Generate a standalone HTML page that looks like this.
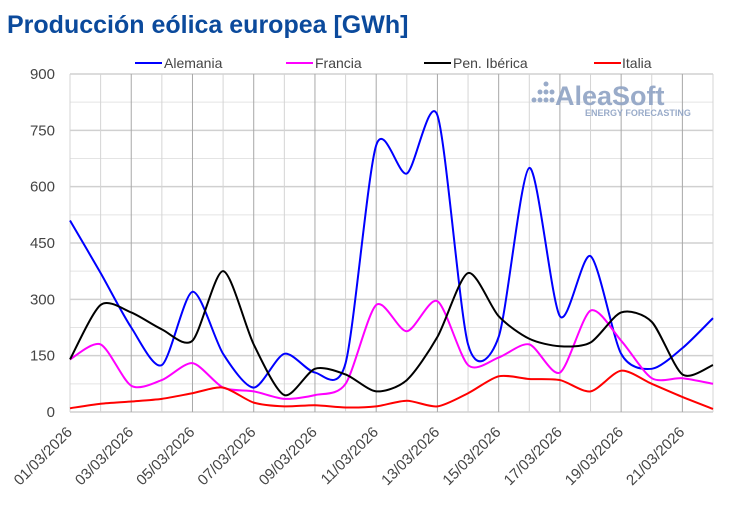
<!DOCTYPE html>
<html><head><meta charset="utf-8"><style>
body{margin:0;background:#fff;width:730px;height:509px;overflow:hidden}
svg text{font-family:"Liberation Sans",sans-serif}
</style></head><body>
<svg id="c" width="730" height="509" xmlns="http://www.w3.org/2000/svg">
<text x="7" y="33" font-size="25" font-weight="bold" fill="#0b4a9c">Producción eólica europea [GWh]</text>
<g id="grid"></g>
<g fill="#8fa3c4" opacity="0.9">
<circle cx="546" cy="84" r="2.5"/><circle cx="540" cy="92" r="2.5"/><circle cx="546" cy="92" r="2.5"/><circle cx="534" cy="100" r="2.5"/><circle cx="540" cy="100" r="2.5"/><circle cx="546" cy="100" r="2.5"/><circle cx="552" cy="92" r="2.5"/><circle cx="552" cy="100" r="2.5"/>
<text x="555" y="105" font-size="27" font-weight="bold">AleaSoft</text>
<text x="585" y="116" font-size="9" font-weight="bold">ENERGY FORECASTING</text>
</g>
<g id="series" fill="none" stroke-width="2"></g>
<g font-size="14" fill="#444">
<line x1="135" y1="63" x2="162" y2="63" stroke="#0000ff" stroke-width="2"/><text x="164" y="68">Alemania</text>
<line x1="286" y1="63" x2="313" y2="63" stroke="#ff00ff" stroke-width="2"/><text x="315" y="68">Francia</text>
<line x1="424" y1="63" x2="451" y2="63" stroke="#000" stroke-width="2"/><text x="453" y="68">Pen. Ibérica</text>
<line x1="594" y1="63" x2="621" y2="63" stroke="#ff0000" stroke-width="2"/><text x="622" y="68">Italia</text>
</g>
</svg>
<script>
var L=70,R=713,T=74,B=412,n=22,dx=(R-L)/21;
var g='';
for(var v=0;v<=900;v+=75){var y=B-(B-T)*v/900;g+='<line x1="'+L+'" x2="'+R+'" y1="'+y+'" y2="'+y+'" stroke="'+(v%150==0?'#d0d0d0':'#e4e4e4')+'" stroke-width="'+(v%150==0?1.5:1)+'"/>';
if(v%150==0)g+='<text x="55" y="'+(y+5)+'" font-size="15" fill="#444" text-anchor="end">'+v+'</text>';}
for(var i=0;i<n;i++){var x=L+i*dx;g+='<line x1="'+x+'" x2="'+x+'" y1="'+T+'" y2="'+B+'" stroke="'+(i%2==0&&i>0?'#a8a8a8':'#d4d4d4')+'" stroke-width="1"/>';
if(i%2==0){var d=('0'+(i+1)).slice(-2)+'/03/2026';g+='<text font-size="15" fill="#444" text-anchor="end" transform="translate('+(x+3)+',433) rotate(-45)">'+d+'</text>';}}
document.getElementById('grid').innerHTML=g;
var S=[['#0000ff',[510,370,225,125,320,155,65,155,105,130,710,635,790,180,200,650,255,415,155,115,170,250]],
['#ff00ff',[140,180,70,85,130,65,55,35,45,75,285,215,295,125,145,180,105,270,190,90,90,75]],
['#000000',[140,285,265,220,190,375,180,45,115,100,55,85,200,370,255,195,175,185,265,240,100,125]],
['#ff0000',[10,22,28,35,50,65,25,15,18,12,15,30,15,50,95,88,85,55,110,75,40,8]]];
var s='';
S.forEach(function(a){var p=a[1].map(function(v,i){return [L+i*dx,B-(B-T)*v/900]});
var d='M'+p[0][0]+','+p[0][1];
for(var i=0;i<p.length-1;i++){var p0=p[Math.max(0,i-1)],p1=p[i],p2=p[i+1],p3=p[Math.min(p.length-1,i+2)],k=7.5;
d+=' C'+(p1[0]+(p2[0]-p0[0])/k)+','+(p1[1]+(p2[1]-p0[1])/k)+' '+(p2[0]-(p3[0]-p1[0])/k)+','+(p2[1]-(p3[1]-p1[1])/k)+' '+p2[0]+','+p2[1];}
s+='<path d="'+d+'" stroke="'+a[0]+'"/>';});
document.getElementById('series').innerHTML=s;
</script>
</body></html>
